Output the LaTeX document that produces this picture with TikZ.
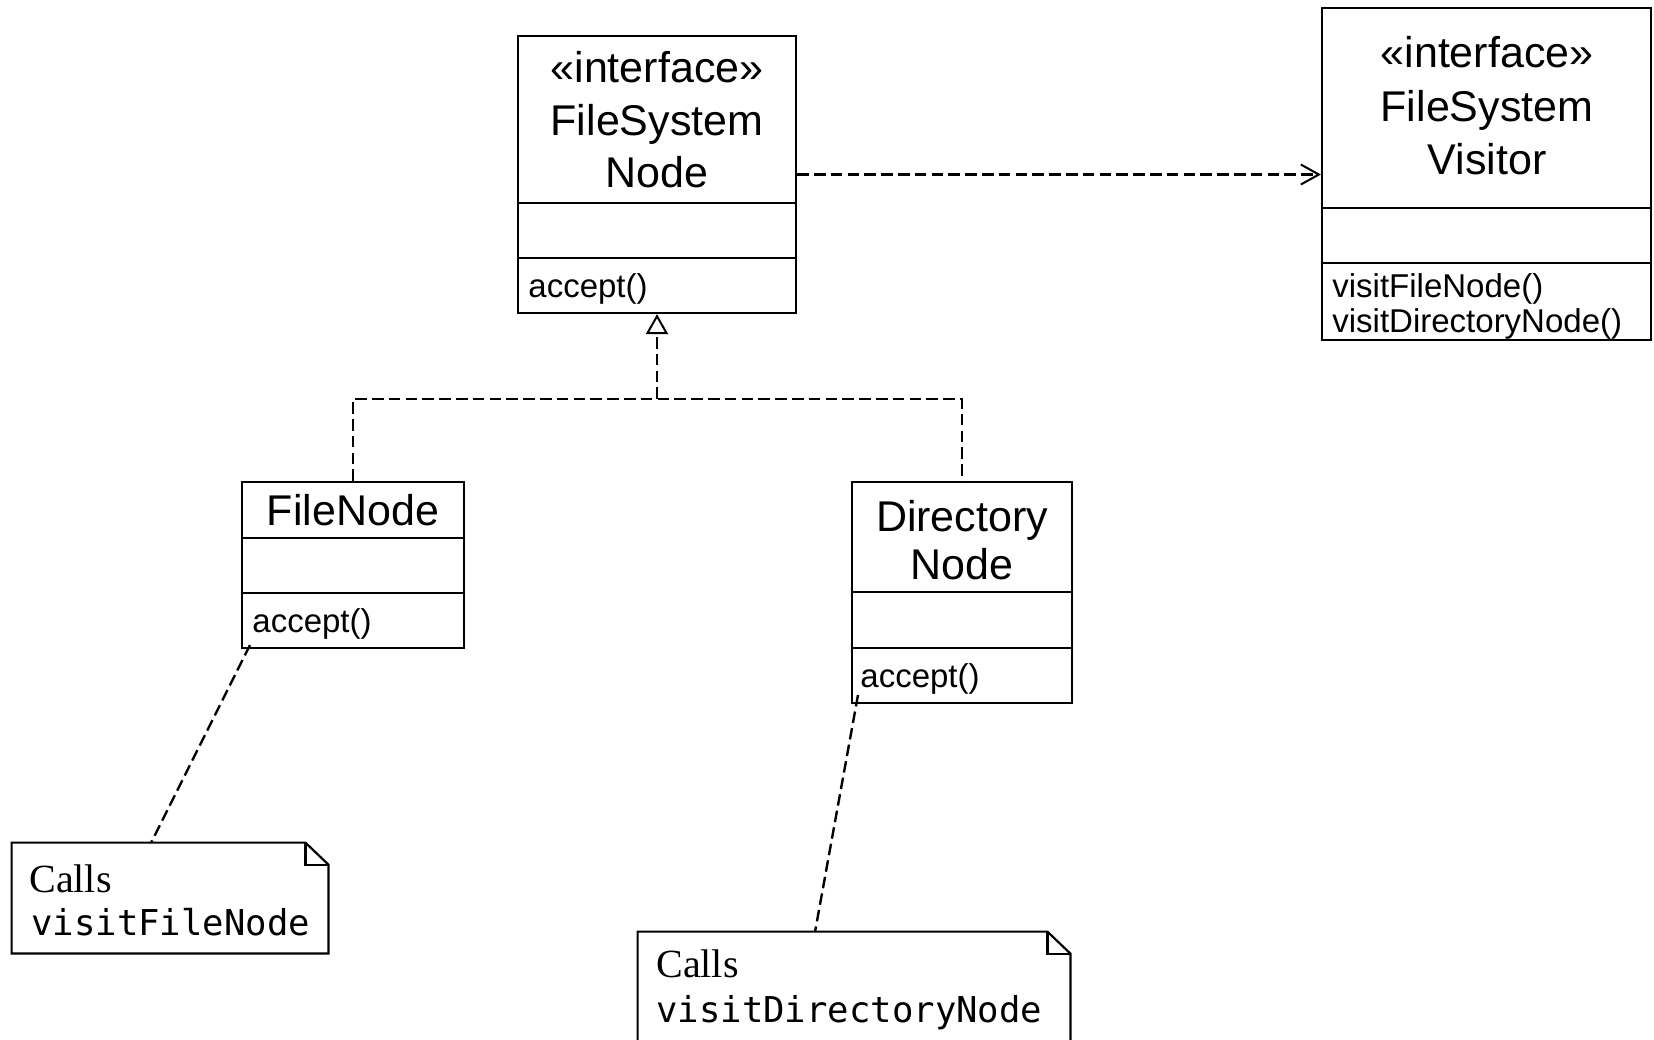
\documentclass[tikz,border=0pt]{standalone}
\usepackage{fontspec}
\setmainfont{Liberation Sans}
\newfontfamily\notefont{Liberation Serif}
\newfontfamily\codefont{DejaVu Sans Mono}
\usetikzlibrary{arrows.meta,calc}
\begin{document}
\begin{tikzpicture}[x=0.5pt,y=-0.5pt,
  cls/.style={draw, line width=1.1pt, rectangle, inner sep=0pt},
  sep/.style={line width=1.1pt},
  ttl/.style={font=\fontsize{21.5}{26}\selectfont, anchor=base, inner sep=0pt},
  meth/.style={font=\fontsize{16.5}{18}\selectfont, anchor=base west, inner sep=0pt},
  calls/.style={font=\notefont\fontsize{20}{24}\selectfont, anchor=base west, inner sep=0pt},
  code/.style={font=\codefont\fontsize{17.8}{20}\selectfont, anchor=base west, inner sep=0pt},
  notebox/.style={inner sep=0pt},
  noteline/.style={line width=1.1pt, line join=miter},
  dsh/.style={line width=1.2pt, dash pattern=on 5.8pt off 2.6pt}]
\useasboundingbox (0,0) rectangle (1654,1039);
\clip (0,0) rectangle (1654,1039);

% FileSystemNode
\node[cls, minimum width=139pt, minimum height=138.5pt] (fsn) at (657,174.5) {};
\draw[sep] (518,203) -- (796,203);
\draw[sep] (518,258) -- (796,258);
\node[ttl] (fsn1) at (657,82) {«interface»};
\node[ttl] (fsn2) at (657,135) {FileSystem};
\node[ttl] (fsn3) at (657,187) {Node};
\node[meth] (fsnm) at (528,297) {accept()};

% FileSystemVisitor
\node[cls, minimum width=164.5pt, minimum height=166pt] (fsv) at (1486.5,174) {};
\draw[sep] (1322,208) -- (1651,208);
\draw[sep] (1322,263) -- (1651,263);
\node[ttl] (fsv1) at (1487,67) {«interface»};
\node[ttl] (fsv2) at (1487,121) {FileSystem};
\node[ttl] (fsv3) at (1487,174) {Visitor};
\node[meth] (fsvm1) at (1332,297) {visitFileNode()};
\node[meth] (fsvm2) at (1332,332) {visitDirectoryNode()};

% FileNode
\node[cls, minimum width=111pt, minimum height=83pt] (fn) at (353,565) {};
\draw[sep] (242,538) -- (464,538);
\draw[sep] (242,593) -- (464,593);
\node[ttl] (fn1) at (353,525) {FileNode};
\node[meth] (fnm) at (252,632) {accept()};

% DirectoryNode
\node[cls, minimum width=110pt, minimum height=110.5pt] (dn) at (962,592.5) {};
\draw[sep] (852,592) -- (1072,592);
\draw[sep] (852,648) -- (1072,648);
\node[ttl] (dn1) at (962,531) {Directory};
\node[ttl] (dn2) at (962,579) {Node};
\node[meth] (dnm) at (860,687) {accept()};

% Notes
\node[notebox, minimum width=158pt, minimum height=55pt] (n1) at (170,898) {};
\draw[noteline] (n1.north west) -- ($(n1.north east)+(-23,0)$) -- ($(n1.north east)+(0,22)$) -- (n1.south east) -- (n1.south west) -- cycle;
\draw[noteline] ($(n1.north east)+(-23,0)$) |- ($(n1.north east)+(0,22)$);
\node[calls] (n1a) at (29,892) {Calls};
\node[code] (n1b) at (31,935) {visitFileNode};

\node[notebox, minimum width=216pt, minimum height=64pt] (n2) at (854,996) {};
\draw[noteline] (n2.north west) -- ($(n2.north east)+(-23,0)$) -- ($(n2.north east)+(0,22)$) -- (n2.south east) -- (n2.south west) -- cycle;
\draw[noteline] ($(n2.north east)+(-23,0)$) |- ($(n2.north east)+(0,22)$);
\node[calls] (n2a) at (656,977) {Calls};
\node[code] (n2b) at (656,1022) {visitDirectoryNode};

% Connectors
\draw[dsh, -{Straight Barb[length=9pt,width=10pt,line width=1pt]}] (fsn.east) -- (fsn.east -| fsv.west);
\coordinate (join) at (657,399);
\draw[dsh] (fn.north) |- (join) -| (dn.north);
\draw[dsh, -{Triangle[open,length=10pt,width=11pt,line width=1pt,fill=white]}] (join) -- (fsn.south);
\coordinate (fnA) at (250,645);
\coordinate (n1A) at (151,843);
\draw[dsh] (fnA) -- (n1A);
\coordinate (dnA) at (858,695);
\coordinate (n2A) at (815,932);
\draw[dsh] (dnA) -- (n2A);
\end{tikzpicture}
\end{document}
